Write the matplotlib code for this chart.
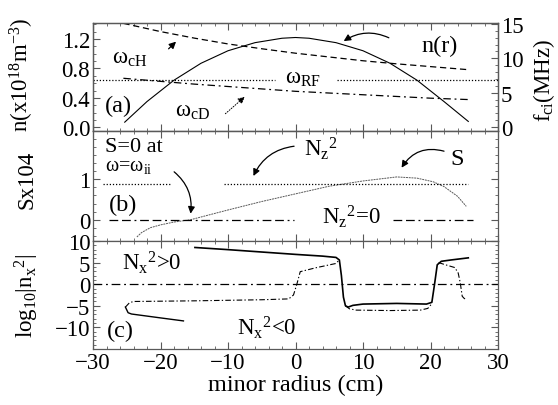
import matplotlib
matplotlib.use("Agg")
import matplotlib.pyplot as plt
from matplotlib.ticker import MultipleLocator

plt.rcParams['font.family'] = ['Liberation Serif', 'DejaVu Serif']
plt.rcParams['mathtext.fontset'] = 'custom'
plt.rcParams['mathtext.rm'] = 'Liberation Serif'
plt.rcParams['mathtext.it'] = 'Liberation Serif:italic'
plt.rcParams['mathtext.bf'] = 'Liberation Serif:bold'
FS = 16.5

# ---- panel (a): density and cyclotron frequencies ----
r_n = [-25.3, -22, -18, -14, -10, -6, -2, 0, 2, 6, 10, 14, 18, 22, 25.6]
n_r = [0.07, 0.35, 0.64, 0.87, 1.04, 1.15, 1.21, 1.22, 1.21, 1.15, 1.04, 0.87, 0.64, 0.35, 0.08]

r_cyc = [-25.5, -20, -15, -10, -5, 0, 5, 10, 15, 20, 25.6]
f_cH = [15.1, 13.9, 12.95, 12.1, 11.4, 10.75, 10.2, 9.65, 9.2, 8.8, 8.35]
f_cD = [7.1, 6.65, 6.25, 5.9, 5.55, 5.2, 4.95, 4.7, 4.45, 4.2, 4.0]

f_rf = 6.84
rf_left = [-30, -3]
rf_right = [6.2, 30]

# ---- panel (b): S and Nz^2 ----
r_s = [-23.5, -22.8, -21.5, -20, -18, -15.5, -10, -5, 0, 5, 10, 15, 18, 20.4, 22, 24, 25.3]
s_val = [-0.43, -0.32, -0.2, -0.13, -0.06, 0.0, 0.24, 0.45, 0.64, 0.83, 0.96, 1.06, 1.03, 0.94, 0.82, 0.58, 0.33]

nz2 = 0.88
nz_left = [-28.5, -18.5]
nz_right = [-10.6, 25.5]
zero_left = [-27.7, -0.2]
zero_right = [14.5, 26.3]

# ---- panel (c): log10|nx^2| ----
r_sol = [-14.9, -10, -5, 0, 4, 6.0, 6.5, 6.8, 7.1, 7.4, 7.8, 8.5, 10, 15, 19.4, 20.2, 20.6, 21.0, 21.6, 23, 25.6]
n_sol = [8.5, 8.0, 7.45, 6.9, 6.5, 6.2, 5.6, 2.0, -3.0, -5.0, -5.3, -4.9, -4.6, -4.45, -4.6, -4.2, 0.0, 4.5, 5.3, 5.6, 6.1]

r_sol2 = [-25.2, -24.8, -24.3, -20, -16.6]
n_sol2 = [-5.3, -6.6, -6.9, -7.8, -8.5]

r_dd1 = [-25.2, -24.6, -24, -15, -5, -1, -0.3, 0.2, 0.7, 3, 6.0, 6.4]
n_dd1 = [-5.3, -4.3, -4.0, -3.85, -3.6, -3.4, -2.5, 0.0, 2.9, 3.8, 4.8, 5.5]
r_dd2 = [7.4, 8.0, 9.0, 14, 18.5, 19.6, 20.2]
n_dd2 = [-5.0, -5.7, -6.0, -6.1, -6.0, -5.6, -4.5]
r_dd3 = [21.2, 22, 23.6, 24.1, 24.4, 24.7, 25.0, 25.4]
n_dd3 = [5.0, 4.6, 3.85, 2.6, 0.4, -2.8, -3.3, -3.6]

fig = plt.figure(figsize=(5.58, 4.06), dpi=100)
L, W = 93 / 558, 405 / 558
ax_a = fig.add_axes([L, 1 - 132 / 406, W, 108 / 406])
ax_b = fig.add_axes([L, 1 - 242 / 406, W, 110 / 406])
ax_c = fig.add_axes([L, 1 - 350 / 406, W, 108 / 406])
ax_f = ax_a.twinx()

for ax in (ax_a, ax_b, ax_c, ax_f):
    ax.set_xlim(-30, 30)
    ax.xaxis.set_major_locator(MultipleLocator(10))
    ax.xaxis.set_minor_locator(MultipleLocator(2))
    for s in ax.spines.values():
        s.set_color('0.35')
        s.set_linewidth(0.9)
    ax.tick_params(which='both', direction='in', top=True, labelsize=FS, colors='0.35',
                   labelcolor='black', pad=2)
    ax.tick_params(which='major', length=5)
    ax.tick_params(which='minor', length=2.5)
for ax in (ax_b, ax_c):
    ax.tick_params(which='both', right=True)
for ax in (ax_a, ax_b, ax_f):
    ax.tick_params(labelbottom=False)

# (a)
ax_a.set_ylim(-0.05, 1.417)
ax_a.yaxis.set_minor_locator(MultipleLocator(0.1))
ax_a.set_yticks([0.0, 0.4, 0.8, 1.2])
ax_a.set_yticklabels(['0.0', '0.4', '0.8', '1.2'])
ax_f.set_ylim(-0.58, 15.15)
ax_f.set_yticks([0, 5, 10, 15])
ax_f.yaxis.set_minor_locator(MultipleLocator(1))

ax_a.plot(r_n, n_r, color='black', lw=0.8)
ax_f.plot(r_cyc, f_cH, color='black', lw=0.9, ls=(0, (5, 3)))
ax_f.plot(r_cyc, f_cD, color='black', lw=0.9, ls=(0, (6, 3, 1.5, 3)))
ax_f.plot(rf_left, [f_rf, f_rf], color='black', lw=0.9, ls=(0, (1, 1.5)))
ax_f.plot(rf_right, [f_rf, f_rf], color='black', lw=0.9, ls=(0, (1, 1.5)))

ax_a.text(-27.2, 0.88, r'ω$_{\mathrm{cH}}$', fontsize=FS, va='baseline')
ax_a.text(-17.9, 0.16, r'ω$_{\mathrm{cD}}$', fontsize=FS, va='baseline')
ax_a.text(-1.6, 0.61, r'ω$_{\mathrm{RF}}$', fontsize=FS, va='baseline')
ax_a.text(-28.2, 0.226, '(a)', fontsize=FS + 1, va='baseline')
ax_a.text(18.6, 1.04, 'n(r)', fontsize=FS + 1, va='baseline')
ax_a.annotate('', xy=(6.8, 1.15), xytext=(14.2, 1.2),
              arrowprops=dict(arrowstyle='-|>', color='black', lw=0.9, mutation_scale=10,
                              connectionstyle='arc3,rad=0.3'))
ax_a.annotate('', xy=(-17.4, 1.19), xytext=(-19.1, 1.04),
              arrowprops=dict(arrowstyle='-|>', color='black', lw=0.9, mutation_scale=10))
ax_a.annotate('', xy=(-7.2, 0.44), xytext=(-10.7, 0.16),
              arrowprops=dict(arrowstyle='-|>', color='black', lw=0.7, ls=':', mutation_scale=10))

# (b)
ax_b.set_ylim(-0.53, 2.2)
ax_b.set_yticks([0, 1])
ax_b.yaxis.set_minor_locator(MultipleLocator(0.2))
ax_b.plot(r_s, s_val, color='0.35', lw=0.7, ls=(0, (2, 0.8)))
ax_b.plot(nz_left, [nz2, nz2], color='black', lw=0.9, ls=(0, (1, 1.5)))
ax_b.plot(nz_right, [nz2, nz2], color='black', lw=0.9, ls=(0, (1, 1.5)))
ax_b.plot(zero_left, [0, 0], color='black', lw=0.9, ls=(0, (7, 3, 7, 3, 1.5, 3)))
ax_b.plot(zero_right, [0, 0], color='black', lw=0.9, ls=(0, (7, 3, 7, 3, 1.5, 3)))

ax_b.text(-28.2, 1.7, 'S=0 at', fontsize=FS - 0.5, va='baseline')
ax_b.text(-28.2, 1.23, r'ω=ω$_{\mathrm{ii}}$', fontsize=FS - 2, va='baseline')
ax_b.text(-27.7, 0.23, '(b)', fontsize=FS + 1, va='baseline')
ax_b.text(1.2, 1.6, r'N$_{\mathrm{z}}$$^2$', fontsize=FS, va='baseline')
ax_b.text(22.9, 1.39, 'S', fontsize=FS + 1, va='baseline')
ax_b.text(3.9, -0.1, r'N$_{\mathrm{z}}$$^2$=0', fontsize=FS, va='baseline')
ax_b.annotate('', xy=(-15.6, 0.08), xytext=(-18.3, 1.23),
              arrowprops=dict(arrowstyle='-|>', color='black', lw=0.9, mutation_scale=10,
                              connectionstyle='arc3,rad=-0.3'))
ax_b.annotate('', xy=(-6.4, 1.02), xytext=(0.2, 1.83),
              arrowprops=dict(arrowstyle='-|>', color='black', lw=0.9, mutation_scale=10,
                              connectionstyle='arc3,rad=0.3'))
ax_b.annotate('', xy=(15.5, 1.23), xytext=(22.4, 1.68),
              arrowprops=dict(arrowstyle='-|>', color='black', lw=0.9, mutation_scale=10,
                              connectionstyle='arc3,rad=0.4'))

# (c)
ax_c.set_ylim(-15, 10)
ax_c.set_yticks([-10, -5, 0, 5, 10])
ax_c.yaxis.set_minor_locator(MultipleLocator(1))
ax_c.set_xticks([-30, -20, -10, 0, 10, 20, 30])
ax_c.axhline(0, color='black', lw=0.9, ls=(0, (7, 3, 1.5, 3)))
ax_c.plot(r_sol, n_sol, color='black', lw=1.2)
ax_c.plot(r_sol2, n_sol2, color='black', lw=1.0)
ax_c.plot(r_dd1, n_dd1, color='black', lw=0.8, ls=(0, (5, 2, 1.2, 2)))
ax_c.plot(r_dd2, n_dd2, color='black', lw=0.8, ls=(0, (5, 2, 1.2, 2)))
ax_c.plot(r_dd3, n_dd3, color='black', lw=0.8, ls=(0, (5, 2, 1.2, 2)))
ax_c.text(-25.7, 3.5, r'N$_{\mathrm{x}}$$^2$>0', fontsize=FS, va='baseline')
ax_c.text(-8.7, -11.5, r'N$_{\mathrm{x}}$$^2$<0', fontsize=FS, va='baseline')
ax_c.text(-28.0, -11.9, '(c)', fontsize=FS + 1, va='baseline')
ax_c.set_xlabel('minor radius (cm)', fontsize=FS + 1, labelpad=1)

# axis titles
fig.text(22 / 558, 1 - 75 / 406, r'n(x10$^{18}$m$^{-3}$)', rotation=90, fontsize=FS,
         ha='center', va='center')
fig.text(27 / 558, 1 - 180 / 406, 'Sx104', rotation=90, fontsize=FS, ha='center', va='center')
fig.text(27 / 558, 1 - 296 / 406, r'log$_{10}$|n$_{\mathrm{x}}$$^2$|', rotation=90, fontsize=FS,
         ha='center', va='center')
fig.text(544 / 558, 1 - 80 / 406, r'f$_{\mathrm{ci}}$(MHz)', rotation=90, fontsize=FS,
         ha='center', va='center')

fig.savefig('out.png', dpi=100)
